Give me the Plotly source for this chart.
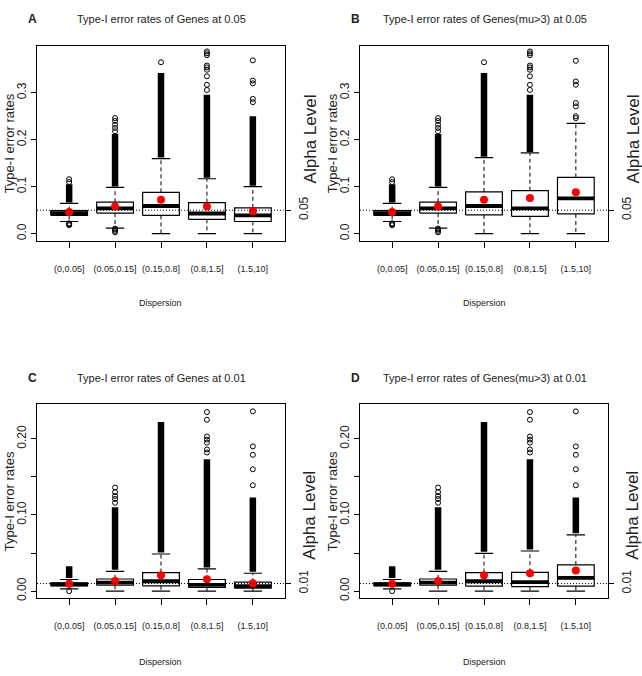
import plotly.graph_objects as go

# ---------------- data ----------------
categories = ["(0,0.05]", "(0.05,0.15]", "(0.15,0.8]", "(0.8,1.5]", "(1.5,10]"]
positions = [1, 2, 3, 4, 5]

# Panel A: Genes at 0.05
A_lo    = [0.026, 0.012, 0.000, 0.000, 0.000]
A_q1    = [0.039, 0.044, 0.039, 0.0305, 0.026]
A_med   = [0.044, 0.054, 0.059, 0.043, 0.039]
A_q3    = [0.049, 0.067, 0.088, 0.066, 0.055]
A_hi    = [0.0645, 0.0986, 0.160, 0.117, 0.100]
A_mean  = [0.046, 0.058, 0.072, 0.058, 0.048]
A_dense_top = [0.105, 0.212, 0.342, 0.296, 0.250]
A_out_hi = [[0.110, 0.116], [0.218, 0.225, 0.232, 0.240, 0.246], [0.365],
            [0.306, 0.317, 0.335, 0.349, 0.354, 0.358, 0.380, 0.384, 0.388],
            [0.280, 0.287, 0.320, 0.326, 0.369]]
A_out_lo = [[0.018, 0.020, 0.022], [0.003, 0.006, 0.009, 0.011], [], [], []]

# Panel B: Genes(mu>3) at 0.05
B_lo    = [0.026, 0.012, 0.000, 0.000, 0.000]
B_q1    = [0.039, 0.044, 0.040, 0.037, 0.042]
B_med   = [0.044, 0.054, 0.059, 0.054, 0.075]
B_q3    = [0.049, 0.067, 0.089, 0.0915, 0.120]
B_hi    = [0.0645, 0.0986, 0.162, 0.172, 0.235]
B_mean  = [0.046, 0.058, 0.072, 0.076, 0.088]
B_dense_top = [0.105, 0.212, 0.342, 0.296, None]
B_out_hi = [[0.110, 0.116], [0.218, 0.225, 0.232, 0.240, 0.246], [0.365],
            [0.306, 0.317, 0.335, 0.349, 0.354, 0.358, 0.380, 0.384, 0.388],
            [0.246, 0.250, 0.271, 0.278, 0.317, 0.324, 0.368]]
B_out_lo = [[0.018, 0.020, 0.022], [0.003, 0.006, 0.009, 0.011], [], [], []]

# Panel C: Genes at 0.01
C_lo    = [0.003, 0.000, 0.000, 0.000, 0.000]
C_q1    = [0.007, 0.0078, 0.007, 0.0048, 0.0039]
C_med   = [0.009, 0.0113, 0.013, 0.0083, 0.0065]
C_q3    = [0.0109, 0.016, 0.0244, 0.0153, 0.0118]
C_hi    = [0.0153, 0.026, 0.0488, 0.0292, 0.0235]
C_mean  = [0.0096, 0.0135, 0.021, 0.0157, 0.0105]
C_dense_top = [0.0327, 0.110, 0.222, 0.173, 0.123]
C_out_hi = [[], [0.116, 0.121, 0.125, 0.130, 0.136], [],
            [0.182, 0.186, 0.195, 0.199, 0.203, 0.225, 0.235],
            [0.139, 0.160, 0.179, 0.190, 0.236]]
C_out_lo = [[0.000], [], [], [], []]

# Panel D: Genes(mu>3) at 0.01
D_lo    = [0.003, 0.000, 0.000, 0.000, 0.000]
D_q1    = [0.007, 0.0078, 0.0065, 0.006, 0.0065]
D_med   = [0.009, 0.0113, 0.013, 0.0118, 0.0174]
D_q3    = [0.0109, 0.016, 0.0244, 0.0248, 0.0344]
D_hi    = [0.0153, 0.026, 0.0497, 0.0527, 0.074]
D_mean  = [0.0096, 0.0135, 0.021, 0.0235, 0.027]
D_dense_top = [0.0327, 0.110, 0.222, 0.173, 0.123]
D_out_hi = [[], [0.116, 0.121, 0.125, 0.130, 0.136], [],
            [0.182, 0.186, 0.195, 0.199, 0.203, 0.225, 0.235],
            [0.139, 0.160, 0.179, 0.190, 0.236]]
D_out_lo = [[0.000], [], [], [], []]

titles = ["Type-I error rates of Genes at 0.05", "Type-I error rates of Genes(mu>3) at 0.05",
          "Type-I error rates of Genes at 0.01", "Type-I error rates of Genes(mu>3) at 0.01"]
letters = ["A", "B", "C", "D"]
alphas = [0.05, 0.05, 0.01, 0.01]
alpha_labels = ["0.05", "0.05", "0.01", "0.01"]
y_ranges = [[-0.0154, 0.4], [-0.0154, 0.4], [-0.0094, 0.2454], [-0.0094, 0.2454]]
y_tickvals = [[0, 0.1, 0.2, 0.3], [0, 0.1, 0.2, 0.3],
              [0, 0.05, 0.10, 0.15, 0.20], [0, 0.05, 0.10, 0.15, 0.20]]
y_ticktext = [["0.0", "0.1", "0.2", "0.3"], ["0.0", "0.1", "0.2", "0.3"],
              ["0.00", "", "0.10", "", "0.20"], ["0.00", "", "0.10", "", "0.20"]]

panels = [
    (A_lo, A_q1, A_med, A_q3, A_hi, A_mean, A_dense_top, A_out_hi, A_out_lo),
    (B_lo, B_q1, B_med, B_q3, B_hi, B_mean, B_dense_top, B_out_hi, B_out_lo),
    (C_lo, C_q1, C_med, C_q3, C_hi, C_mean, C_dense_top, C_out_hi, C_out_lo),
    (D_lo, D_q1, D_med, D_q3, D_hi, D_mean, D_dense_top, D_out_hi, D_out_lo),
]

# ---------------- layout geometry ----------------
W, H = 642, 676
boxes_px = [(37, 285, 46, 242), (360, 608, 46, 242), (37, 285, 406, 601), (360, 608, 406, 601)]

SANS = "Liberation Sans, Arial, Helvetica, sans-serif"
TXT = "#222"

BW = 0.4   # half box width
CW = 0.2   # half cap width

fig = go.Figure()
layout = dict(width=W, height=H, margin=dict(l=0, r=0, t=0, b=0),
              paper_bgcolor="white", plot_bgcolor="white", showlegend=False)
annotations = []
shapes = []

for k, (lo, q1, med, q3, hi, mean, dtop, out_hi, out_lo) in enumerate(panels):
    xa = "x" if k == 0 else f"x{k+1}"
    ya = "y" if k == 0 else f"y{k+1}"
    yr = f"y{k+5}"
    L, R, T, B = boxes_px[k]

    bx, by, mx, my, wx, wy, cx, cy, dx, dy = ([] for _ in range(10))
    for i, p in enumerate(positions):
        bx += [p - BW, p + BW, p + BW, p - BW, p - BW, None]
        by += [q1[i], q1[i], q3[i], q3[i], q1[i], None]
        mx += [p - BW, p + BW, None]
        my += [med[i], med[i], None]
        wx += [p, p, None, p, p, None]
        wy += [q3[i], hi[i], None, q1[i], lo[i], None]
        cx += [p - CW, p + CW, None, p - CW, p + CW, None]
        cy += [hi[i], hi[i], None, lo[i], lo[i], None]
        if dtop[i] is not None:
            dx += [p, p, None]
            dy += [hi[i] + 0.002, dtop[i], None]
    ox, oy = [], []
    for i, p in enumerate(positions):
        for v in out_hi[i] + out_lo[i]:
            ox.append(p)
            oy.append(v)

    common = dict(xaxis=xa, yaxis=ya, hoverinfo="skip", showlegend=False)
    fig.add_trace(go.Scatter(x=wx, y=wy, mode="lines",
                             line=dict(color="black", width=1, dash="4px,3px"), **common))
    fig.add_trace(go.Scatter(x=cx, y=cy, mode="lines",
                             line=dict(color="black", width=1.2), **common))
    fig.add_trace(go.Scatter(x=dx, y=dy, mode="lines",
                             line=dict(color="black", width=6.5), **common))
    fig.add_trace(go.Scatter(x=ox, y=oy, mode="markers",
                             marker=dict(symbol="circle-open", size=5, color="black",
                                         line=dict(width=1, color="black")), **common))
    fig.add_trace(go.Scatter(x=bx, y=by, mode="lines",
                             line=dict(color="black", width=1.2), **common))
    fig.add_trace(go.Scatter(x=mx, y=my, mode="lines",
                             line=dict(color="black", width=3.8), **common))
    fig.add_trace(go.Scatter(x=positions, y=mean, mode="markers",
                             marker=dict(symbol="circle", size=8, color="#ff0000"), **common))
    # invisible trace so the right-hand alpha axis is drawn
    fig.add_trace(go.Scatter(x=[positions[0]], y=[alphas[k]], mode="markers",
                             marker=dict(size=1, opacity=0), xaxis=xa, yaxis=yr,
                             hoverinfo="skip", showlegend=False))

    xdom = [L / W, R / W]
    ydom = [1 - B / H, 1 - T / H]
    xkey = "xaxis" if k == 0 else f"xaxis{k+1}"
    ykey = "yaxis" if k == 0 else f"yaxis{k+1}"
    layout[xkey] = dict(domain=xdom, anchor=ya, range=[0.3, 5.7], tickmode="array",
                        tickvals=positions, ticktext=categories, tickangle=0, ticks="outside",
                        ticklen=6, tickcolor="black", showline=True, mirror=True,
                        linecolor="black", linewidth=1, showgrid=False, zeroline=False,
                        tickfont=dict(family=SANS, size=9, color=TXT),
                        ticklabelstandoff=13, fixedrange=True)
    layout[ykey] = dict(domain=ydom, anchor=xa, range=y_ranges[k], tickmode="array",
                        tickvals=y_tickvals[k], ticktext=y_ticktext[k], tickangle=-90,
                        ticks="outside", ticklen=5, tickcolor="black", showline=True,
                        mirror=True, linecolor="black", linewidth=1, showgrid=False,
                        zeroline=False, tickfont=dict(family=SANS, size=12, color=TXT),
                        fixedrange=True)
    layout[f"yaxis{k+5}"] = dict(domain=ydom, anchor=xa, overlaying=ya, side="right",
                                 range=y_ranges[k], tickmode="array", tickvals=[alphas[k]],
                                 ticktext=[alpha_labels[k]], tickangle=-90, ticks="outside",
                                 ticklen=5, tickcolor="black", showline=False, showgrid=False,
                                 zeroline=False,
                                 tickfont=dict(family=SANS, size=12, color=TXT),
                                 ticklabelstandoff=3, fixedrange=True)
    shapes.append(dict(type="line", xref=f"{xa} domain", x0=0, x1=1, yref=ya,
                       y0=alphas[k], y1=alphas[k],
                       line=dict(color="black", width=1, dash="1px,2px"),
                       layer="above"))

    cxp = (L + R) / 2
    top_title_y = 19 if k < 2 else 380
    annotations.append(dict(text=titles[k], x=(cxp + 1) / W, y=1 - top_title_y / H,
                            xref="paper", yref="paper", showarrow=False,
                            font=dict(family=SANS, size=11, color=TXT),
                            xanchor="center", yanchor="middle"))
    annotations.append(dict(text="<b>" + letters[k] + "</b>", x=(L - 5) / W, y=1 - top_title_y / H,
                            xref="paper", yref="paper", showarrow=False,
                            font=dict(family=SANS, size=12, color=TXT),
                            xanchor="center", yanchor="middle"))
    disp_y = 304 if k < 2 else 665
    annotations.append(dict(text="Dispersion", x=cxp / W, y=1 - disp_y / H,
                            xref="paper", yref="paper", showarrow=False,
                            font=dict(family=SANS, size=9, color=TXT),
                            xanchor="center", yanchor="middle"))
    ylab_y = (T + B) / 2
    annotations.append(dict(text="Type-I error rates", x=(L - 28) / W, y=1 - ylab_y / H,
                            xref="paper", yref="paper", showarrow=False, textangle=-90,
                            font=dict(family=SANS, size=13, color=TXT),
                            xanchor="center", yanchor="middle"))
    alpha_y = 140 if k < 2 else 518
    annotations.append(dict(text="Alpha Level", x=(R + 25) / W, y=1 - alpha_y / H,
                            xref="paper", yref="paper", showarrow=False, textangle=-90,
                            font=dict(family=SANS, size=17, color=TXT),
                            xanchor="center", yanchor="middle"))

layout["annotations"] = annotations
layout["shapes"] = shapes
fig.update_layout(**layout)
fig.write_html("out.html")
